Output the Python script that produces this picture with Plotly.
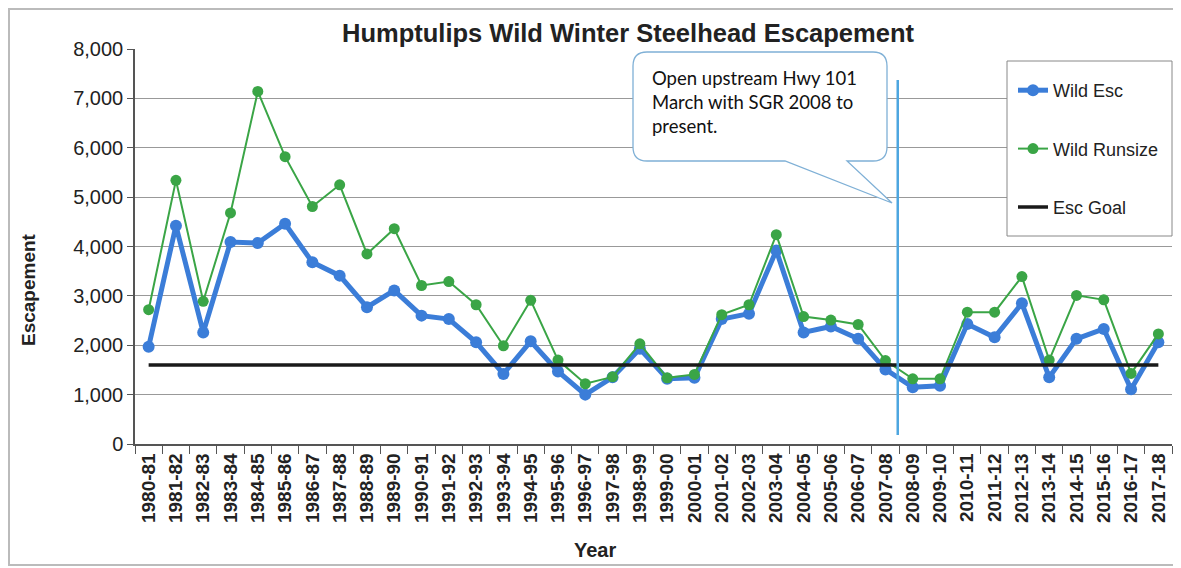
import plotly.graph_objects as go

years = ["1980-81", "1981-82", "1982-83", "1983-84", "1984-85", "1985-86", "1986-87",
         "1987-88", "1988-89", "1989-90", "1990-91", "1991-92", "1992-93", "1993-94",
         "1994-95", "1995-96", "1996-97", "1997-98", "1998-99", "1999-00", "2000-01",
         "2001-02", "2002-03", "2003-04", "2004-05", "2005-06", "2006-07", "2007-08",
         "2008-09", "2009-10", "2010-11", "2011-12", "2012-13", "2013-14", "2014-15",
         "2015-16", "2016-17", "2017-18"]

wild_esc = [1970, 4420, 2260, 4090, 4070, 4460, 3680, 3410, 2770, 3110, 2600, 2530, 2060,
            1420, 2080, 1470, 1000, 1350, 1930, 1320, 1340, 2530, 2640, 3920, 2260, 2380,
            2130, 1510, 1150, 1180, 2430, 2160, 2850, 1350, 2130, 2330, 1110, 2060]

wild_runsize = [2720, 5340, 2890, 4680, 7140, 5820, 4810, 5250, 3850, 4360, 3210, 3290, 2820,
                1990, 2910, 1700, 1220, 1360, 2030, 1340, 1410, 2620, 2820, 4240, 2580, 2510,
                2420, 1690, 1320, 1320, 2670, 2670, 3390, 1700, 3010, 2920, 1430, 2230]

esc_goal = [1600] * len(years)

# page has an 8px body margin; figure sized to fit the 1181x568 window
W, H = 1173, 560
L, R, T, B = 127, 9, 41, 124
PW, PH = W - L - R, H - T - B
PLOT_LEFT, PLOT_BOTTOM = 135, 444  # page coordinates of plot area


def px(x):
    return (x - PLOT_LEFT) / PW


def py(y):
    return (PLOT_BOTTOM - y) / PH


fig = go.Figure()
fig.add_trace(go.Scatter(x=years, y=wild_esc, name="Wild Esc", mode="lines+markers",
                         line=dict(color="#3b7dd8", width=5),
                         marker=dict(color="#3b7dd8", size=12),
                         legendgroup="a"))
fig.add_trace(go.Scatter(x=years, y=wild_runsize, name="Wild Runsize", mode="lines+markers",
                         line=dict(color="#3aa546", width=2),
                         marker=dict(color="#3aa546", size=11),
                         legendgroup="b"))
fig.add_trace(go.Scatter(x=years, y=esc_goal, name="Esc Goal", mode="lines",
                         line=dict(color="#1a1a1a", width=3.5),
                         legendgroup="c"))

# vertical marker line
fig.add_shape(type="line", xref="x", yref="y", x0=27.45, x1=27.45, y0=180, y1=7370,
              line=dict(color="#4da6e0", width=2.5))

# callout box
bl, br, bt, bb, r = 633, 887, 52, 161, 14
t1, t2, tipx, tipy = 785, 847, 892, 203
pts = [
    ("M", bl + r, bt), ("L", br - r, bt), ("Q", br, bt, br, bt + r), ("L", br, bb - r),
    ("Q", br, bb, br - r, bb), ("L", t2, bb), ("L", tipx, tipy), ("L", t1, bb),
    ("L", bl + r, bb), ("Q", bl, bb, bl, bb - r), ("L", bl, bt + r), ("Q", bl, bt, bl + r, bt)
]
path = ""
for p in pts:
    if p[0] == "Q":
        path += f"Q{px(p[1])},{py(p[2])} {px(p[3])},{py(p[4])} "
    else:
        path += f"{p[0]}{px(p[1])},{py(p[2])} "
path += "Z"
fig.add_shape(type="path", xref="paper", yref="paper", path=path,
              fillcolor="white", line=dict(color="#7fb0d6", width=1.3))
fig.add_annotation(xref="paper", yref="paper", x=px(650), y=py(102), xanchor="left",
                   yanchor="middle", align="left", showarrow=False,
                   text="Open upstream Hwy 101<br>March with SGR 2008 to<br>present.",
                   font=dict(family="Lato", size=18.5, color="#111"))

# legend frame
fig.add_shape(type="rect", xref="paper", yref="paper", x0=px(1007), x1=px(1172),
              y0=py(236), y1=py(61), fillcolor="white", line=dict(color="#888888", width=1))

# axis titles
fig.add_annotation(xref="paper", yref="paper", x=px(28), y=py(290), textangle=-90,
                   xanchor="center", yanchor="middle",
                   showarrow=False, text="Escapement",
                   font=dict(family="Liberation Sans", size=19, color="#222", weight="bold"))
fig.add_annotation(xref="paper", yref="paper", x=px(595), y=py(550),
                   xanchor="center", yanchor="middle",
                   showarrow=False, text="Year",
                   font=dict(family="Liberation Sans", size=20, color="#222", weight="bold"))

# outer frame
fig.add_shape(type="rect", xref="paper", yref="paper", x0=px(9), x1=px(1177), y0=py(565),
              y1=py(9), line=dict(color="#bbbbbb", width=2), layer="below")

fig.update_layout(
    width=W, height=H, autosize=False,
    margin=dict(l=L, r=R, t=T, b=B),
    paper_bgcolor="white", plot_bgcolor="white",
    title=dict(text="Humptulips Wild Winter Steelhead Escapement", x=px(628), xref="paper",
               xanchor="center", y=1 - (33 - 8) / H, yanchor="middle", yref="container",
               font=dict(family="Liberation Sans", size=25.5, color="#222", weight="bold")),
    legend=dict(x=px(1013), y=py(72), xanchor="left", yanchor="top",
                bgcolor="rgba(0,0,0,0)", borderwidth=0,
                traceorder="grouped", tracegroupgap=32,
                font=dict(family="Liberation Sans", size=18, color="#222")),
    showlegend=True,
)
fig.update_xaxes(type="category", range=[-0.5, 37.5], tickson="boundaries", ticks="outside",
                 ticklen=8, tickcolor="#555", tickangle=-90, showgrid=False,
                 showline=True, linecolor="#555", linewidth=1.5,
                 tickfont=dict(family="Liberation Sans", size=19, color="#222", weight="bold"))
fig.update_yaxes(range=[0, 8000], dtick=1000, tickformat=",d", ticks="outside", ticklen=6,
                 tickcolor="#555", showgrid=True, gridcolor="#999999", gridwidth=1,
                 showline=True, linecolor="#555", linewidth=1.5, zeroline=False,
                 tickfont=dict(family="Liberation Sans", size=20, color="#222"))

fig.write_html("out.html")
